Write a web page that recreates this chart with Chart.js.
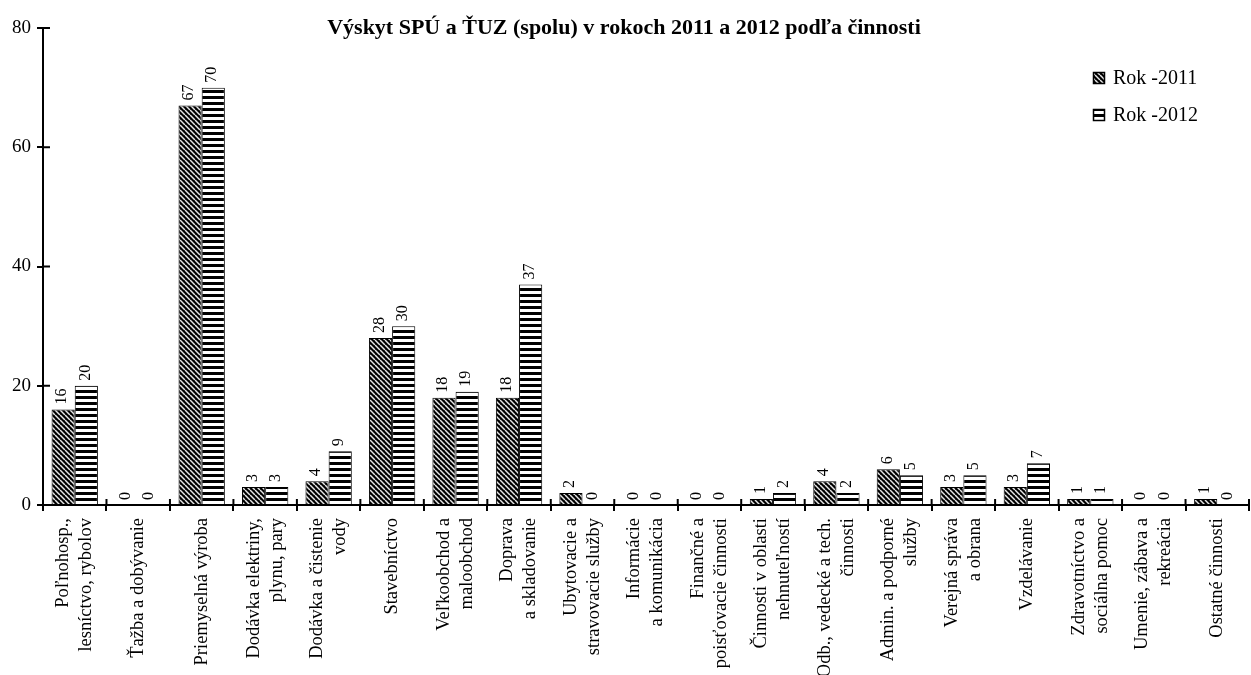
<!DOCTYPE html>
<html><head><meta charset="utf-8">
<script src="https://cdn.jsdelivr.net/npm/chart.js@4.4.0/dist/chart.umd.min.js"></script>
<style>html,body{margin:0;padding:0;background:#fff;} #wrap{width:1251px;height:675px;position:relative}</style>
</head><body><div id="wrap"><canvas id="c"></canvas></div>
<script>
const categories = [
  ["Poľnohosp.,","lesníctvo, rybolov"], ["Ťažba a dobývanie"], ["Priemyselná výroba"],
  ["Dodávka elektriny,","plynu, pary"], ["Dodávka a čistenie","vody"], ["Stavebníctvo"],
  ["Veľkoobchod a","maloobchod"], ["Doprava","a skladovanie"], ["Ubytovacie a","stravovacie služby"],
  ["Informácie","a komunikácia"], ["Finančné a","poisťovacie činnosti"], ["Činnosti v oblasti","nehnuteľností"],
  ["Odb., vedecké a tech.","činnosti"], ["Admin. a podporné","služby"], ["Verejná správa","a obrana"],
  ["Vzdelávanie"], ["Zdravotníctvo a","sociálna pomoc"], ["Umenie, zábava a","rekreácia"], ["Ostatné činnosti"]
];
const values2011 = [16, 0, 67, 3, 4, 28, 18, 18, 2, 0, 0, 1, 4, 6, 3, 3, 1, 0, 1];
const values2012 = [20, 0, 70, 3, 9, 30, 19, 37, 0, 0, 0, 2, 2, 5, 5, 7, 1, 0, 0];
const seriesNames = ["Rok -2011", "Rok -2012"];
const yTicks = [0, 20, 40, 60, 80];
const titleText = "Výskyt SPÚ a ŤUZ (spolu) v rokoch 2011 a 2012 podľa činnosti";

const FONT = "'Liberation Serif', 'Times New Roman', serif";

function diagPattern() {
  const s = 5, c = document.createElement('canvas');
  c.width = s; c.height = s;
  const g = c.getContext('2d');
  g.fillStyle = '#000'; g.fillRect(0, 0, s, s);
  g.strokeStyle = '#e6e6e6'; g.lineWidth = 1.5;
  for (let k = -1; k <= 1; k++) {
    g.beginPath(); g.moveTo(k * s, 0); g.lineTo(k * s + s, s); g.stroke();
  }
  return document.getElementById('c').getContext('2d').createPattern(c, 'repeat');
}
function horizPattern() {
  const c = document.createElement('canvas');
  c.width = 4; c.height = 6;
  const g = c.getContext('2d');
  g.fillStyle = '#fff'; g.fillRect(0, 0, 4, 6);
  g.fillStyle = '#000'; g.fillRect(0, 0, 4, 3);
  return document.getElementById('c').getContext('2d').createPattern(c, 'repeat');
}
const pat2011 = diagPattern();
const pat2012 = horizPattern();

const extrasPlugin = {
  id: 'extras',
  afterDatasetsDraw(chart) {
    const ctx = chart.ctx;
    const x = chart.scales.x, y = chart.scales.y;
    ctx.save();
    // inward tick parts
    ctx.strokeStyle = '#000'; ctx.lineWidth = 2;
    y.ticks.forEach((t, i) => {
      const py = y.getPixelForTick(i);
      ctx.beginPath(); ctx.moveTo(x.left, py); ctx.lineTo(x.left + 7, py); ctx.stroke();
    });
    const half = (x.getPixelForValue(1) - x.getPixelForValue(0)) / 2;
    for (let i = 0; i <= categories.length; i++) {
      const px = x.getPixelForValue(0) - half + i * 2 * half;
      ctx.beginPath(); ctx.moveTo(px, y.bottom); ctx.lineTo(px, y.bottom - 6); ctx.stroke();
    }
    // category labels (rotated)
    ctx.fillStyle = '#000';
    ctx.font = '18.5px ' + FONT;
    ctx.textAlign = 'right'; ctx.textBaseline = 'middle';
    const lh = 23;
    categories.forEach((lines, i) => {
      const px = x.getPixelForValue(i);
      const n = lines.length;
      lines.forEach((ln, j) => {
        ctx.save();
        ctx.translate(px + (j - (n - 1) / 2) * lh, y.bottom + 13);
        ctx.rotate(-Math.PI / 2);
        ctx.fillText(ln, 0, 0);
        ctx.restore();
      });
    });
    // data labels
    ctx.font = '16px ' + FONT;
    ctx.textAlign = 'left'; ctx.textBaseline = 'middle';
    chart.data.datasets.forEach((ds, di) => {
      const meta = chart.getDatasetMeta(di);
      meta.data.forEach((bar, i) => {
        ctx.save();
        ctx.translate(bar.x - 1, bar.y - 5);
        ctx.rotate(-Math.PI / 2);
        ctx.fillText(String(ds.data[i]), 0, 0);
        ctx.restore();
      });
    });
    // title
    ctx.font = 'bold 22px ' + FONT;
    ctx.textAlign = 'center'; ctx.textBaseline = 'middle';
    ctx.fillText(titleText, 624, 28);
    // legend
    const legY = [78, 115];
    ctx.font = '20px ' + FONT;
    ctx.textAlign = 'left';
    chart.data.datasets.forEach((ds, di) => {
      const cy = legY[di];
      ctx.fillStyle = ds.backgroundColor;
      ctx.fillRect(1093, cy - 6, 12, 12);
      ctx.strokeStyle = '#000'; ctx.lineWidth = 1.5;
      ctx.strokeRect(1093.5, cy - 5.5, 11, 11);
      ctx.fillStyle = '#000';
      ctx.fillText(ds.label, 1113, cy + 1);
    });
    ctx.restore();
  }
};

new Chart(document.getElementById('c'), {
  type: 'bar',
  data: {
    labels: categories,
    datasets: [
      { label: seriesNames[0], data: values2011, backgroundColor: pat2011, borderColor: '#000', borderWidth: 1 },
      { label: seriesNames[1], data: values2012, backgroundColor: pat2012, borderColor: '#000', borderWidth: 1 }
    ]
  },
  options: {
    responsive: true, maintainAspectRatio: false, animation: false,
    devicePixelRatio: 1,
    layout: { padding: { top: 28, left: 0, right: 2, bottom: 0 } },
    datasets: { bar: { categoryPercentage: 0.73, barPercentage: 1.0 } },
    plugins: { legend: { display: false }, title: { display: false }, tooltip: { enabled: false } },
    scales: {
      x: {
        grid: { display: true, drawOnChartArea: false, drawTicks: true, tickLength: 6, color: '#000', lineWidth: 2, offset: true },
        border: { display: true, color: '#000', width: 2 },
        ticks: { display: false },
        afterFit(s) { s.height = 170; }
      },
      y: {
        min: 0, max: 80,
        afterBuildTicks(s) { s.ticks = yTicks.map(v => ({ value: v })); },
        grid: { display: true, drawOnChartArea: false, drawTicks: true, tickLength: 6, color: '#000', lineWidth: 2 },
        border: { display: true, color: '#000', width: 2 },
        ticks: { color: '#000', font: { family: FONT, size: 19 }, padding: 6 },
        afterFit(s) { s.width = 43; }
      }
    }
  },
  plugins: [extrasPlugin]
});
</script></body></html>
